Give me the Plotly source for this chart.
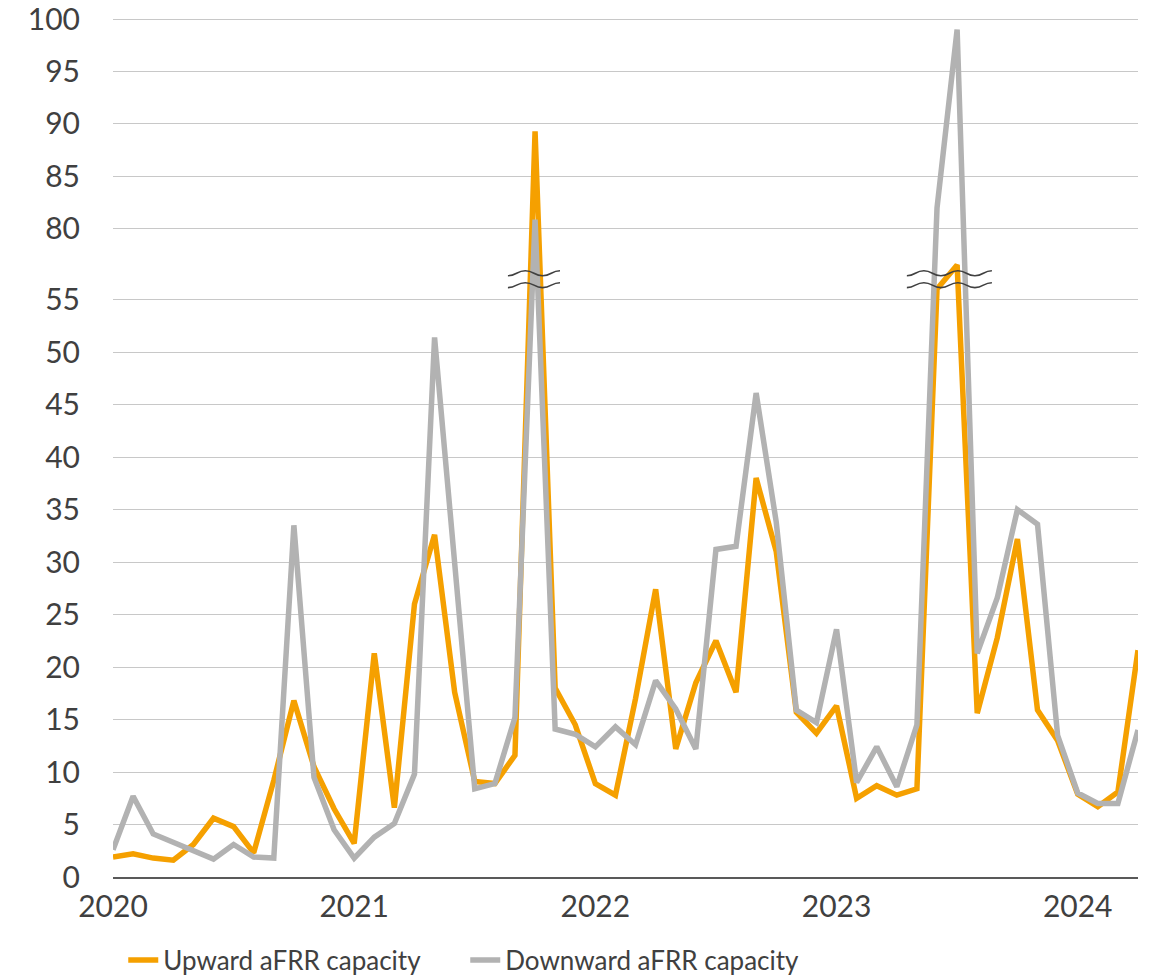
import plotly.graph_objects as go

# ---- data (monthly, Jan 2020 - Apr 2024) ----
months = [f"{y}-{m:02d}" for y in range(2020, 2025) for m in range(1, 13)][:52]

upward = [1.9, 2.2, 1.8, 1.6, 3.1, 5.6, 4.8, 2.3, 9.2, 16.8,
          10.5, 6.5, 3.2, 21.3, 6.6, 26.0, 32.6, 17.6, 9.1, 8.9,
          11.6, 89.3, 18.0, 14.5, 8.9, 7.8, 17.0, 27.4, 12.2, 18.5,
          22.5, 17.6, 38.0, 31.0, 15.7, 13.7, 16.3, 7.5, 8.7, 7.8,
          8.4, 56.0, 58.3, 15.6, 22.8, 32.2, 15.9, 13.0, 7.9, 6.7,
          8.1, 21.6]

downward = [2.6, 7.7, 4.1, 3.3, 2.6, 1.7, 3.1, 1.9, 1.8, 33.5,
            9.5, 4.5, 1.8, 3.8, 5.1, 9.8, 51.4, 30.0, 8.4, 8.9,
            15.2, 80.9, 14.1, 13.6, 12.4, 14.3, 12.6, 18.7, 16.0, 12.2,
            31.2, 31.5, 46.1, 33.8, 15.9, 14.7, 23.6, 9.0, 12.4, 8.6,
            14.5, 82.0, 99.0, 21.3, 26.6, 35.0, 33.6, 13.5, 8.0, 7.0,
            7.0, 14.0]

year_labels = ["2020", "2021", "2022", "2023", "2024"]
lower_ticks = [0, 5, 10, 15, 20, 25, 30, 35, 40, 45, 50, 55]
upper_ticks = [80, 85, 90, 95, 100]

# ---- broken y-axis transform ----
BREAK_LOW = 60.0          # values above this are on the upper segment
SHIFT = 80 - 61.73        # upper segment: 80 sits at 61.73 on the plotted scale


def to_axis(v):
    return v if v <= BREAK_LOW else v - SHIFT


x = list(range(len(months)))
year_pos = [months.index(f"{y}-01") for y in year_labels]

ORANGE = "#F5A000"
GRAY = "#B2B2B2"
TXT = "#404040"
FONT = "Lato, 'Open Sans', sans-serif"

fig = go.Figure()
fig.add_trace(go.Scatter(
    x=x, y=[to_axis(v) for v in upward], mode="lines",
    name="Upward aFRR capacity", line=dict(color=ORANGE, width=5.5),
    customdata=months, text=[str(v) for v in upward],
    hovertemplate="%{customdata}: %{text}<extra></extra>"))
fig.add_trace(go.Scatter(
    x=x, y=[to_axis(v) for v in downward], mode="lines",
    name="Downward aFRR capacity", line=dict(color=GRAY, width=5.5),
    customdata=months, text=[str(v) for v in downward],
    hovertemplate="%{customdata}: %{text}<extra></extra>"))

# ---- axis-break markers (two wavy lines) ----
def wave_path(x0, x1, y_low, y_high, n_seg, start_low=True):
    pts = []
    for k in range(n_seg + 1):
        xx = x0 + (x1 - x0) * k / n_seg
        low = (k % 2 == 0) == start_low
        pts.append((xx, y_low if low else y_high))
    d = f"M {pts[0][0]},{pts[0][1]}"
    for (xa, ya), (xb, yb) in zip(pts[:-1], pts[1:]):
        dx = xb - xa
        d += f" C {xa + dx / 2},{ya} {xb - dx / 2},{yb} {xb},{yb}"
    return d


def add_break(x0, x1, n_seg):
    for (lo, hi) in [(57.28, 57.75), (56.14, 56.61)]:
        fig.add_shape(type="path", xref="x", yref="y",
                      path=wave_path(x0, x1, lo, hi, n_seg),
                      line=dict(color="#404040", width=1.6), layer="above")


add_break(19.65,22.24, 3)
add_break(39.5, 43.73, 5)

tickvals = [to_axis(v) for v in lower_ticks] + [v - SHIFT for v in upper_ticks]
ticktext = [str(v) for v in lower_ticks + upper_ticks]

TOP_PX = 19                               # pixel row of the "100" gridline
PX_PER_UNIT = (877 - TOP_PX) / (100 - SHIFT)
TOP_MARGIN = 10

fig.update_layout(
    width=1153, height=975,
    margin=dict(l=113, r=15, t=TOP_MARGIN, b=98, autoexpand=False),
    paper_bgcolor="white", plot_bgcolor="white",
    font=dict(family=FONT, color=TXT),
    showlegend=True,
    legend=dict(orientation="h", x=0.01, xanchor="left",
                yref="container", y=(975 - 960) / 975, yanchor="middle",
                entrywidth=297, entrywidthmode="pixels",
                font=dict(size=26, color=TXT, family=FONT),
                bgcolor="rgba(0,0,0,0)"),
    xaxis=dict(range=[0, len(months) - 1], tickvals=year_pos,
               ticktext=year_labels, showgrid=False, zeroline=False,
               showline=True, linecolor="#595959", linewidth=1.5,
               ticks="outside", ticklen=2, tickcolor="rgba(0,0,0,0)",
               ticklabeloverflow="allow",
               tickfont=dict(size=30, color=TXT, family=FONT)),
    yaxis=dict(range=[0, 100 - SHIFT + (TOP_PX - TOP_MARGIN) / PX_PER_UNIT],
               tickvals=tickvals, ticktext=ticktext,
               showgrid=True, gridcolor="#C8C8C8", gridwidth=1,
               zeroline=False, showline=False,
               ticks="outside", ticklen=26, tickcolor="rgba(0,0,0,0)",
               ticklabeloverflow="allow",
               tickfont=dict(size=30, color=TXT, family=FONT)),
)

fig.write_html("out.html", config={"displayModeBar": False},
               post_script="document.body.style.margin='0';document.body.style.overflow='hidden';")
